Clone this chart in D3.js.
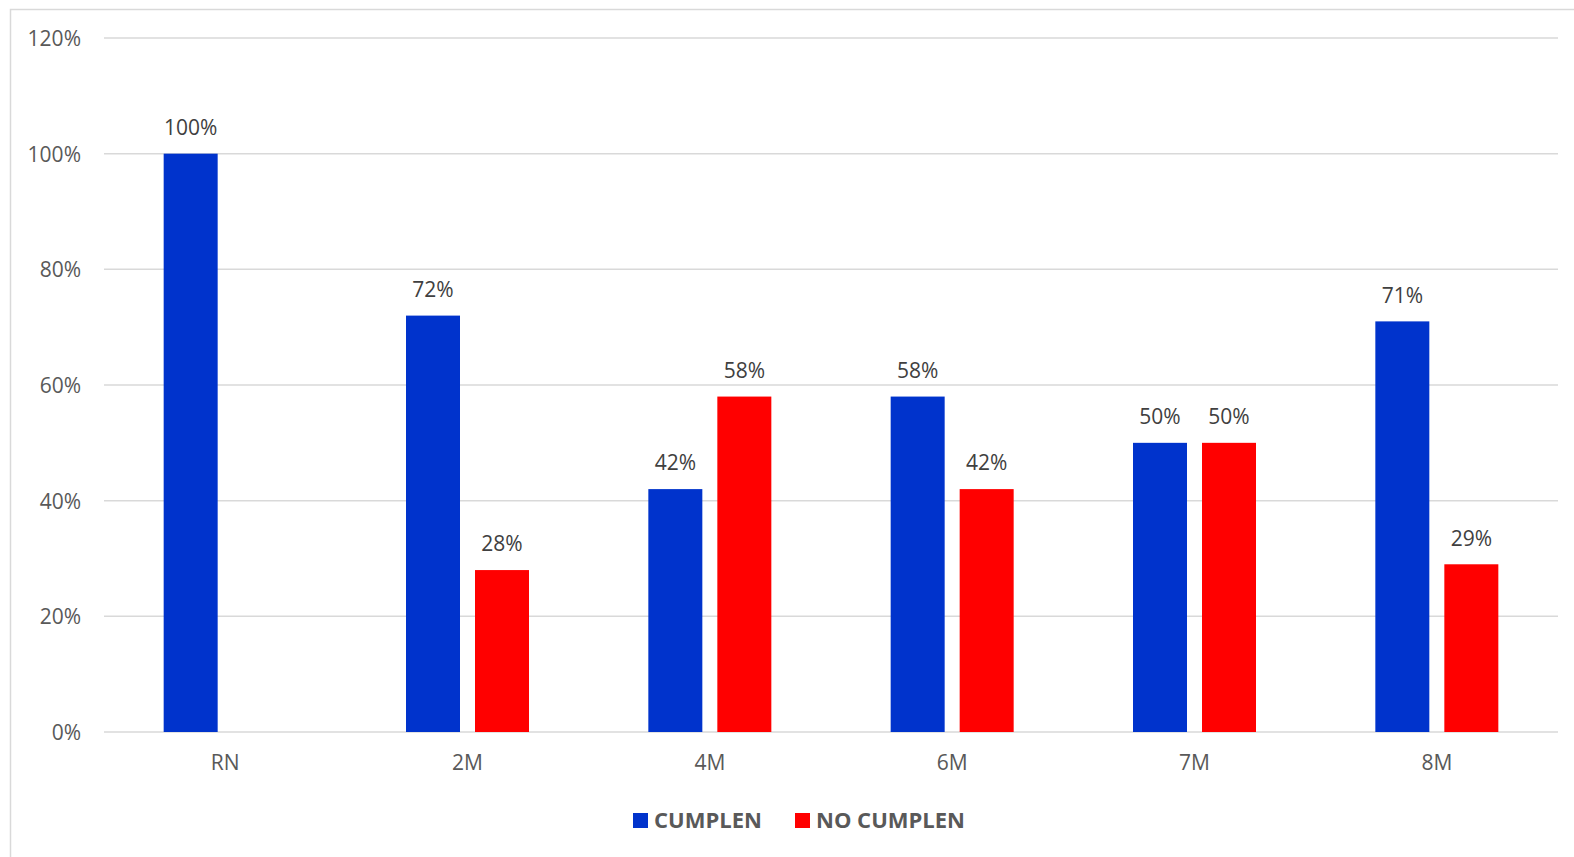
<!DOCTYPE html>
<html>
<head>
<meta charset="utf-8">
<script src="https://cdn.jsdelivr.net/npm/d3@7"></script>
<style>
  html, body { margin: 0; padding: 0; background: #fff; }
  svg { display: block; }
  text { font-family: "Open Sans", "Noto Sans", sans-serif; }
</style>
</head>
<body>
<svg id="chart" width="1574" height="857"></svg>
<script>
const categories = ["RN", "2M", "4M", "6M", "7M", "8M"];
const seriesNames = ["CUMPLEN", "NO CUMPLEN"];
const cumplen = [100, 72, 42, 58, 50, 71];
const noCumplen = [null, 28, 58, 42, 50, 29];
const yTicks = [0, 20, 40, 60, 80, 100, 120];
const colors = ["#0033CC", "#FF0000"];

const seriesValues = [cumplen, noCumplen];

(function () {
const svg = d3.select("#chart");

// chart frame
svg.append("rect")
  .attr("x", 10.5).attr("y", 9.5)
  .attr("width", 1600).attr("height", 900)
  .attr("fill", "#fff").attr("stroke", "#d9d9d9").attr("stroke-width", 1.5);

const mLeft = 104, mRight = 1558, mTop = 38, mBottom = 732;

const x0 = d3.scaleBand().domain(categories).range([mLeft, mRight]).paddingInner(0).paddingOuter(0);
const groupW = 123;
const x1 = d3.scaleBand().domain(seriesNames)
  .range([x0.bandwidth() / 2 - groupW / 2, x0.bandwidth() / 2 + groupW / 2])
  .paddingInner(15 / 69).paddingOuter(0);
const y = d3.scaleLinear().domain([0, 120]).range([mBottom, mTop]);

// gridlines
svg.append("g").selectAll("line").data(yTicks).join("line")
  .attr("x1", mLeft).attr("x2", mRight)
  .attr("y1", d => y(d)).attr("y2", d => y(d))
  .attr("stroke", "#d9d9d9").attr("stroke-width", 1.5);

// y axis labels
const yAxis = d3.axisLeft(y).tickValues(yTicks).tickFormat(d => d + "%").tickSize(0).tickPadding(0);
const gy = svg.append("g").attr("transform", `translate(81,0)`).call(yAxis);
gy.select(".domain").remove();
gy.selectAll("text").attr("fill", "#595959").style("font-size", "21px")
  .style("font-family", '"Open Sans", sans-serif').attr("dy", "0.35em");

// x axis labels
const xAxis = d3.axisBottom(x0).tickSize(0).tickPadding(0);
const gx = svg.append("g").attr("transform", `translate(0,${mBottom})`).call(xAxis);
gx.select(".domain").remove();
gx.selectAll("text").attr("fill", "#595959").style("font-size", "21px")
  .style("font-family", '"Open Sans", sans-serif').attr("y", 31).attr("dy", "0.35em");

// bars
const data = [];
categories.forEach((c, i) => {
  seriesNames.forEach((s, j) => {
    const v = seriesValues[j][i];
    if (v !== null && v !== undefined) data.push({ c, s, v, j });
  });
});

svg.append("g").selectAll("rect").data(data).join("rect")
  .attr("x", d => x0(d.c) + x1(d.s))
  .attr("y", d => y(d.v))
  .attr("width", x1.bandwidth())
  .attr("height", d => y(0) - y(d.v))
  .attr("fill", d => colors[d.j]);

// data labels
svg.append("g").selectAll("text").data(data).join("text")
  .attr("x", d => x0(d.c) + x1(d.s) + x1.bandwidth() / 2)
  .attr("y", d => y(d.v) - 26)
  .attr("dy", "0.35em")
  .attr("text-anchor", "middle")
  .attr("fill", "#404040")
  .style("font-size", "21px")
  .text(d => d.v + "%");

// legend
const legendItems = [
  { name: seriesNames[0], color: colors[0], sx: 633, tx: 654 },
  { name: seriesNames[1], color: colors[1], sx: 795, tx: 816 }
];
const lg = svg.append("g");
legendItems.forEach(it => {
  lg.append("rect").attr("x", it.sx).attr("y", 813).attr("width", 15).attr("height", 15).attr("fill", it.color);
  lg.append("text").attr("x", it.tx).attr("y", 820).attr("dy", "0.35em")
    .attr("fill", "#595959").style("font-size", "22px").style("font-weight", "bold")
    .text(it.name);
});
})();
</script>
</body>
</html>
